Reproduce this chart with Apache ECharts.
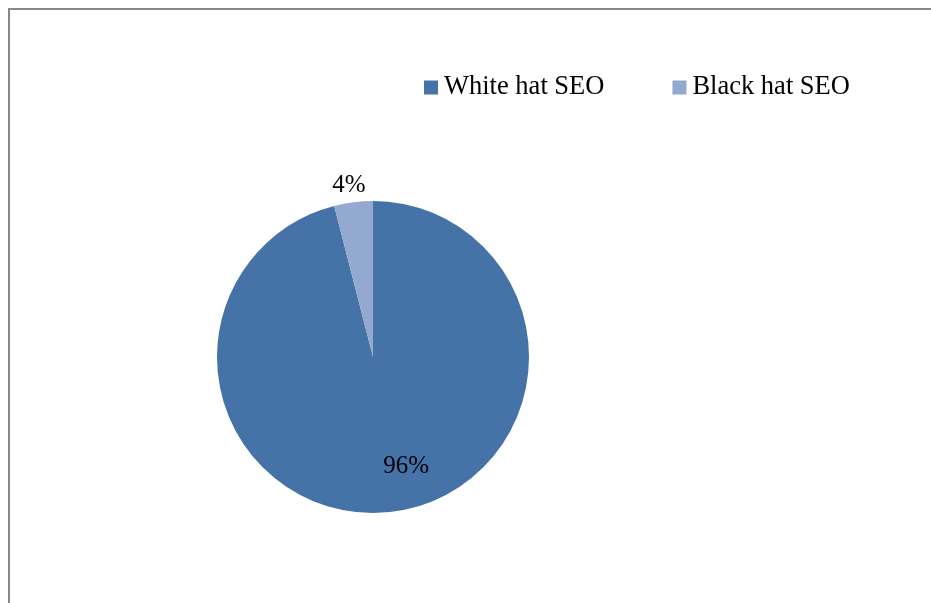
<!DOCTYPE html>
<html>
<head>
<meta charset="utf-8">
<script src="https://cdn.jsdelivr.net/npm/echarts@6/dist/echarts.min.js"></script>
<style>
  html, body { margin: 0; padding: 0; background: #fff; }
  #chart { width: 931px; height: 603px; }
</style>
</head>
<body>
<div id="chart"></div>
<script>
// Share of SEO practice
const categories = ['White hat SEO', 'Black hat SEO'];
const shares = [96, 4];
const colors = ['#4572A7', '#93A9CF'];
// Label nudges from the default inside position
const labelOffsets = [[23, 29], [-14, -91]];

const FONT = '"Liberation Serif", "Times New Roman", serif';

const chart = echarts.init(document.getElementById('chart'), null, { renderer: 'canvas' });

chart.setOption({
  animation: false,
  backgroundColor: '#fff',
  color: colors,
  graphic: [{
    type: 'rect',
    shape: { x: 9, y: 9, width: 960, height: 640 },
    style: { fill: 'none', stroke: '#888', lineWidth: 2 },
    silent: true
  }],
  legend: {
    data: categories,
    left: 419,
    top: 69,
    itemWidth: 14,
    itemHeight: 14,
    itemGap: 68,
    icon: 'rect',
    textStyle: { fontFamily: FONT, fontSize: 26.5, color: '#000', padding: [0, 0, 0, 1] }
  },
  series: [{
    type: 'pie',
    center: [373, 357],
    radius: [0, 156],
    startAngle: 90,
    clockwise: true,
    itemStyle: { borderWidth: 0 },
    emphasis: { disabled: true },
    label: {
      show: true,
      position: 'inside',
      fontFamily: FONT,
      fontSize: 25,
      color: '#000',
      formatter: p => p.value + '%'
    },
    labelLine: { show: false },
    data: categories.map((name, i) => ({
      name,
      value: shares[i],
      label: { offset: labelOffsets[i] }
    }))
  }]
});
</script>
</body>
</html>
